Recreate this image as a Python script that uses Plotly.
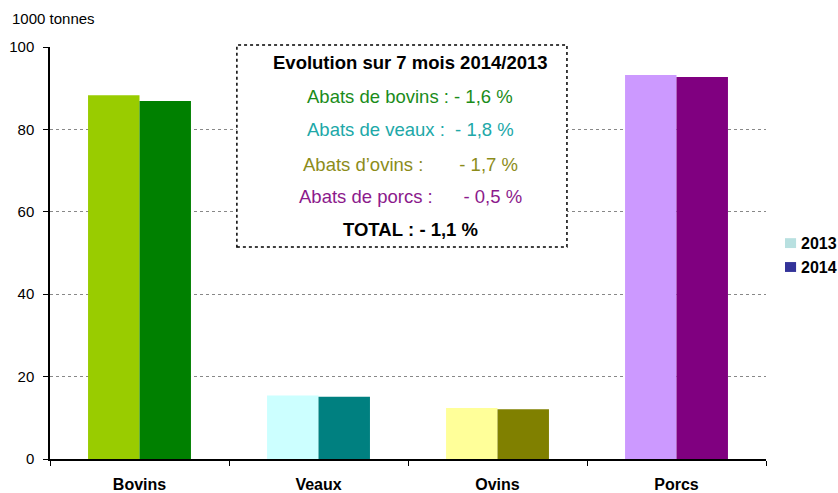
import plotly.graph_objects as go

categories = ["Bovins", "Veaux", "Ovins", "Porcs"]
values_2013 = [88.3, 15.4, 12.4, 93.2]
values_2014 = [86.9, 15.1, 12.1, 92.7]
colors_2013 = ["#99CC00", "#CCFFFF", "#FFFF99", "#CC99FF"]
colors_2014 = ["#008000", "#008080", "#808000", "#800080"]
legend_names = ["2013", "2014"]
legend_colors = ["#B8E0E0", "#333399"]

box_title = "Evolution sur 7 mois 2014/2013"
box_lines = [
    ("Abats de bovins : - 1,6 %", "#1A8C1A"),
    ("Abats de veaux :  - 1,8 %", "#20A8A8"),
    ("Abats d\u2019ovins :       - 1,7 %", "#8C8C1A"),
    ("Abats de porcs :      - 0,5 %", "#8C1A8C"),
]
box_total = "TOTAL : - 1,1 %"

FONT = "Liberation Sans, Arial, sans-serif"

fig = go.Figure()
fig.add_trace(go.Bar(x=categories, y=values_2013, marker=dict(color=colors_2013, line=dict(width=0)),
                     showlegend=False, name=legend_names[0]))
fig.add_trace(go.Bar(x=categories, y=values_2014, marker=dict(color=colors_2014, line=dict(width=0)),
                     showlegend=False, name=legend_names[1]))


def nb(s):
    return s.replace(" ", "\u00a0")


annotations = [
    dict(text="1000 tonnes", xref="paper", yref="paper", x=-0.0559, y=1.068, xanchor="left", yanchor="middle",
         showarrow=False, font=dict(size=15, color="#000", family=FONT)),
    dict(text="<b>" + nb(box_title) + "</b>", xref="paper", yref="paper", x=0.503, y=0.962,
         xanchor="center", yanchor="middle",
         showarrow=False, font=dict(size=18.5, color="#000", family=FONT)),
]
ys = [0.879, 0.799, 0.716, 0.638]
for (t, c), yy in zip(box_lines, ys):
    annotations.append(dict(text=nb(t), xref="paper", yref="paper", x=0.503, y=yy, showarrow=False,
                            xanchor="center", yanchor="middle",
                            font=dict(size=18.5, color=c, family=FONT)))
annotations.append(dict(text="<b>" + nb(box_total) + "</b>", xref="paper", yref="paper", x=0.503, y=0.556,
                        xanchor="center", yanchor="middle",
                        showarrow=False, font=dict(size=18.5, color="#000", family=FONT)))

shapes = [dict(type="rect", xref="paper", yref="paper", x0=0.261, x1=0.722, y0=0.5146, y1=1.005,
               line=dict(color="#000", width=1.5, dash="dot"), fillcolor="rgba(255,255,255,1)", layer="above")]

# manual legend
leg_y = [0.524, 0.466]
for name, col, yy in zip(legend_names, legend_colors, leg_y):
    shapes.append(dict(type="rect", xref="paper", yref="paper", x0=1.0265, x1=1.042, y0=yy - 0.012, y1=yy + 0.012,
                       line=dict(width=0), fillcolor=col))
    annotations.append(dict(text="<b>" + name + "</b>", xref="paper", yref="paper", x=1.046, y=yy,
                            xanchor="left", yanchor="middle", showarrow=False,
                            font=dict(size=16, color="#000", family=FONT)))

fig.update_layout(
    width=838, height=493,
    margin=dict(l=50, r=72, t=47, b=34, autoexpand=False),
    paper_bgcolor="white", plot_bgcolor="white",
    barmode="group", bargap=0.425, bargroupgap=0,
    showlegend=False,
    font=dict(family=FONT, size=15, color="#000"),
    xaxis=dict(type="category", tickson="boundaries", ticks="outside", ticklen=5, tickcolor="#000",
               showline=True, linecolor="#000", linewidth=1.5, showgrid=False, ticklabelstandoff=10,
               tickfont=dict(size=16, family=FONT), tickprefix="<b>", ticksuffix="</b>"),
    yaxis=dict(range=[0, 100], tickvals=[0, 20, 40, 60, 80, 100], ticks="outside", ticklen=5, tickcolor="#000",
               showline=True, linecolor="#000", linewidth=1.5, showgrid=True, gridcolor="#888888",
               griddash="dot", gridwidth=1, zeroline=False, ticklabelstandoff=6,
               tickfont=dict(size=15, family=FONT)),
    annotations=annotations,
    shapes=shapes,
)
fig.write_html("out.html", config={"displayModeBar": False},
               post_script="document.body.style.margin='0';document.body.style.overflow='hidden';")
